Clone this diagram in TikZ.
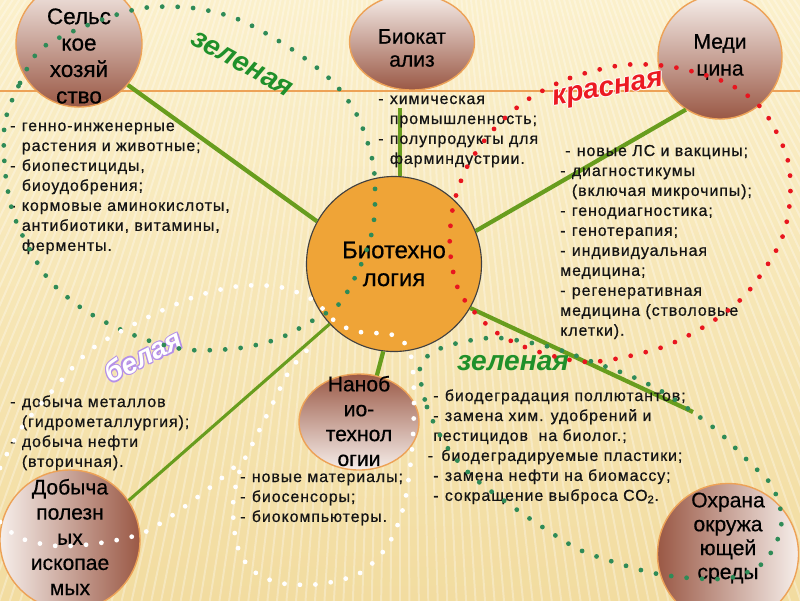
\documentclass[tikz,border=0pt]{standalone}
\usepackage{fontspec}
\setmainfont{Liberation Sans}
\newfontfamily\listfont[LetterSpace=6,FakeBold=0.6]{Liberation Sans}
\newfontfamily\headfont[FakeBold=0.5]{Liberation Sans}
\usetikzlibrary{shapes.geometric}
\definecolor{bgtop}{HTML}{FBF0CB}
\definecolor{bgbot}{HTML}{F2DCA0}
\definecolor{rosy}{HTML}{F6EEEA}
\definecolor{cocoa}{HTML}{9A5845}
\definecolor{rim}{HTML}{EDA257}
\definecolor{core}{HTML}{EFA437}
\definecolor{stem}{HTML}{689D1E}
\definecolor{leafdot}{HTML}{2F8B57}
\definecolor{reddot}{HTML}{E8151F}
\definecolor{greenword}{HTML}{20902A}
\definecolor{redword}{HTML}{EC1A22}
\definecolor{lilac}{HTML}{B590E8}
\tikzset{
  sphere/.style={circle,draw=rim,line width=1pt,inner sep=0pt},
  egg/.style={ellipse,draw=rim,line width=1pt,inner sep=0pt},
  shadedown/.style={top color=rosy,bottom color=cocoa},
  shadeup/.style={top color=cocoa,bottom color=rosy},
  shaderight/.style={left color=rosy,right color=cocoa},
  shadeleft/.style={left color=cocoa,right color=rosy},
  title/.style={align=center,inner sep=0pt,font=\headfont\fontsize{15}{17.8}\selectfont},
  link/.style={draw=stem,line width=3pt},
  facts/.style={anchor=base west,inner sep=0pt,text=black!92,font=\listfont\fontsize{11.3}{14.2}\selectfont},
  tag/.style={font=\bfseries\itshape\fontsize{20}{24}\selectfont},
  belt/.style={line width=3.4pt,line cap=round,dash pattern=on 0pt off 11pt}
}
\begin{document}
\begin{tikzpicture}[x=0.025cm,y=-0.025cm]
\useasboundingbox (0,0) rectangle (800,600);
\shade[top color=bgtop,bottom color=bgbot] (0,0) rectangle (800,600);
\begin{scope}
\clip (0,0) rectangle (800,600);
\foreach \a in {-36,-35.55,...,36}
  \draw[white,opacity=0.3,line width=1.4pt] (400,-600) -- ++(90+\a:1800);
\end{scope}
\draw[rim,line width=1.1pt] (0,91) -- (800,91);
\node[sphere,fill=core,draw=black!75,line width=0.8pt,minimum size=4.375cm,title,font=\headfont\fontsize{17}{19.8}\selectfont] (bio) at (394,264) {Биотехно\\логия};
\node[sphere,shadedown,minimum size=3.15cm] (agro) at (79,44) {};
\node[title,font=\headfont\fontsize{16}{18.8}\selectfont] (agro-t) at (79,56) {Сельс\\кое\\хозяй\\ство};
\node[egg,shadedown,minimum width=3.125cm,minimum height=2.4cm] (catal) at (412,42) {};
\node[title,font=\headfont\fontsize{15}{16.3}\selectfont] (catal-t) at (412,48) {Биокат\\ализ};
\node[sphere,shadedown,minimum size=3.1cm,title,font=\headfont\fontsize{15}{19.1}\selectfont] (med) at (720,57) {Меди\\цина};
\node[egg,shadeup,minimum width=3cm,minimum height=2.4cm] (nano) at (359,422) {};
\node[title,font=\headfont\fontsize{15}{17.7}\selectfont] (nano-t) at (359,421) {Наноб\\ио-\\технол\\огии};
\node[sphere,shaderight,minimum size=3.5cm] (mining) at (70,540) {};
\node[title,font=\headfont\fontsize{15}{17.9}\selectfont] (mining-t) at (70,537) {Добыча\\полезн\\ых\\ископае\\мых};
\node[sphere,shadeleft,minimum size=3.525cm] (env) at (728,554) {};
\node[title,font=\headfont\fontsize{15}{17}\selectfont] (env-t) at (728,538) {Охрана\\окружа\\ющей\\среды};
\coordinate (catal-foot) at (400,108);
\coordinate (env-end) at (693,412);
\draw[link] (agro.-40) -- (bio.151);
\draw[link] (catal-foot) -- (catal-foot |- bio.north);
\draw[link] (bio.22) -- (med.237);
\draw[link] (bio.-30) -- (env-end);
\draw[link] (bio.-97) -- (nano.69);
\draw[link,line width=2.2pt] (bio.223) -- (mining.34);
\node[facts] (agro-f) at (10,131) {\begin{tabular}[t]{@{}l@{\hspace{4.5pt}}l@{}}
- & генно-инженерные\\
  & растения и животные;\\
- & биопестициды,\\
  & биоудобрения;\\
- & кормовые аминокислоты,\\
  & антибиотики, витамины,\\
  & ферменты.
\end{tabular}};
\node[facts] (catal-f) at (378,104) {\begin{tabular}[t]{@{}l@{\hspace{4.5pt}}l@{}}
- & химическая\\
  & промышленность;\\
- & полупродукты для\\
  & фарминдустрии.
\end{tabular}};
\node[facts] (med-f) at (560,156) {\begin{tabular}[t]{@{}l@{\hspace{4.5pt}}l@{}}
\multicolumn{2}{@{\hspace{3.5pt}}l@{}}{-\hspace{4.5pt}новые ЛС и вакцины;}\\
- & диагностикумы\\
  & (включая микрочипы);\\
- & генодиагностика;\\
- & генотерапия;\\
- & индивидуальная\\
\multicolumn{2}{@{}l@{}}{медицина;}\\
- & регенеративная\\
\multicolumn{2}{@{}l@{}}{медицина (стволовые}\\
\multicolumn{2}{@{}l@{}}{клетки).}
\end{tabular}};
\node[facts] (mining-f) at (10,407) {\begin{tabular}[t]{@{}l@{\hspace{4.5pt}}l@{}}
- & добыча металлов\\
  & (гидрометаллургия);\\
- & добыча нефти\\
  & (вторичная).
\end{tabular}};
\node[facts] (nano-f) at (240,482) {\begin{tabular}[t]{@{}l@{\hspace{4.5pt}}l@{}}
- & новые материалы;\\
- & биосенсоры;\\
- & биокомпьютеры.
\end{tabular}};
\node[facts] (env-f) at (433,401) {\begin{tabular}[t]{@{}l@{\hspace{4.5pt}}l@{}}
- & биодеградация поллютантов;\\
- & замена хим. удобрений и\\
\multicolumn{2}{@{}l@{}}{пестицидов\ \ на биолог.;}\\
\multicolumn{2}{@{\hspace{-4pt}}l@{}}{-\hspace{6pt}биодеградируемые пластики;}\\
- & замена нефти на биомассу;\\
- & сокращение выброса СО\textsubscript{2}.
\end{tabular}};
\node[tag,text=greenword,rotate=-29] (green-top) at (242,64) {зеленая};
\foreach \dx/\dy in {0.7pt/0pt,-0.7pt/0pt,0pt/0.7pt,0pt/-0.7pt}
  \node[tag,text=white,rotate=10,xshift=\dx,yshift=\dy] at (608,91) {красная};
\node[tag,text=redword,rotate=10] (red-tag) at (608,91) {красная};
\foreach \dx/\dy in {0.8pt/0pt,-0.8pt/0pt,0pt/0.8pt,0pt/-0.8pt,0.6pt/0.6pt,-0.6pt/-0.6pt,0.6pt/-0.6pt,-0.6pt/0.6pt}
  \node[tag,text=lilac,rotate=27,xshift=\dx,yshift=\dy] at (143,356) {белая};
\node[tag,text=white,rotate=27] (white-tag) at (143,356) {белая};
\node[tag,text=greenword] (green-low) at (513,363) {зеленая};
\draw[belt,leafdot] plot[smooth cycle] coordinates {(5,122) (20,83) (42,48) (93,23) (143,8) (193,8) (240,20) (293,50) (333,82) (358,117) (373,163) (375,203) (372,232) (360,267) (340,303) (317,318) (280,338) (240,348) (190,350) (150,341) (113,326) (80,307) (50,281) (30,250) (13,213) (5,170)};
\draw[belt,reddot] plot[smooth cycle] coordinates {(527,100) (570,78) (623,65) (673,67) (727,83) (763,110) (787,157) (790,200) (780,243) (747,293) (710,323) (660,348) (590,362) (533,350) (493,330) (460,293) (450,250) (453,207) (467,167) (493,130)};
\draw[belt,leafdot] plot[smooth cycle] coordinates {(420,367) (427,407) (447,447) (473,477) (513,507) (547,530) (580,550) (617,563) (653,573) (690,578) (730,578) (763,563) (780,533) (780,507) (770,483) (750,463) (720,433) (690,410) (663,392) (633,377) (593,362) (550,347) (500,338) (467,341) (437,350)};
\draw[belt,white] plot[smooth] coordinates {(0,468) (20,430) (47,397) (88,352) (127,328) (163,310) (200,295) (240,286) (280,287) (313,300) (337,323) (360,332) (393,335) (410,352) (414,395) (412,450) (404,505) (388,545) (360,573) (320,584) (280,583) (252,570) (237,545) (233,505) (240,470) (256,437) (273,403) (290,370) (312,345)};
\draw[belt,white] plot[smooth] coordinates {(0,522) (20,538) (57,546) (100,543) (143,533) (180,510) (217,482) (240,462)};
\end{tikzpicture}
\end{document}
